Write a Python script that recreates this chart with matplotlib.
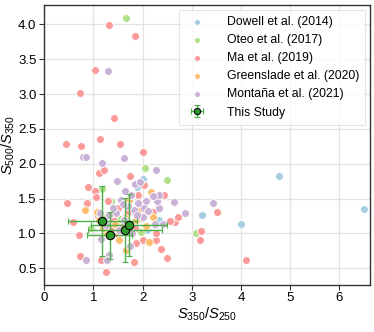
import matplotlib
matplotlib.use("Agg")
import matplotlib.pyplot as plt

# S350/S250 (x) and S500/S350 (y) colour ratios per survey
dowell_x = [6.51, 4.78, 4.01, 3.20, 2.00, 1.92, 1.89, 2.34, 1.60, 2.10, 1.95, 2.25, 1.75]
dowell_y = [1.35, 1.82, 1.13, 1.26, 1.78, 1.73, 1.66, 1.19, 1.16, 1.05, 1.20, 1.12, 1.30]

oteo_x = [1.67, 2.06, 2.50, 3.09, 3.54, 2.33, 1.97, 1.18, 1.36, 1.55, 0.95, 2.05, 1.45, 1.25, 1.80]
oteo_y = [4.10, 1.94, 1.76, 1.00, 1.30, 1.35, 1.02, 1.63, 1.47, 1.20, 1.07, 1.10, 1.05, 1.25, 1.15]

ma_x = [1.32, 1.85, 1.03, 0.72, 1.43, 0.45, 0.74, 1.54, 1.13, 2.00, 1.12, 1.22, 1.75, 2.03,
        0.89, 1.03, 0.46, 0.88, 1.05, 1.29, 1.30, 1.50, 2.43, 1.91, 0.59, 0.71, 0.73, 1.16,
        1.26, 1.83, 2.49, 2.38, 2.01, 2.28, 2.27, 1.86, 3.16, 3.19, 3.51, 4.11, 2.66, 2.73,
        2.55, 2.22, 1.40, 1.60, 1.70, 1.95, 1.35, 1.85, 1.10, 1.50]
ma_y = [3.99, 3.83, 3.35, 3.01, 2.66, 2.28, 2.26, 2.29, 2.35, 2.17, 1.87, 1.91, 1.83, 1.70,
        1.66, 1.61, 1.43, 1.43, 1.52, 1.48, 1.47, 1.36, 1.55, 1.55, 1.17, 0.98, 0.68, 0.62,
        0.44, 0.59, 0.64, 0.78, 0.90, 0.91, 1.01, 0.86, 0.90, 1.03, 1.31, 0.61, 1.16, 1.24,
        1.18, 1.31, 1.20, 1.10, 1.30, 1.22, 1.05, 1.08, 1.25, 0.98]

green_x = [0.84, 2.18, 2.13, 1.67, 1.58, 1.12, 1.07, 1.45, 1.87, 2.07, 1.53, 1.26, 2.21,
           1.73, 1.39, 1.20, 1.65, 1.95]
green_y = [1.33, 1.59, 0.87, 0.76, 1.46, 1.19, 1.31, 1.14, 1.19, 1.10, 0.91, 1.00, 1.24,
           1.48, 1.29, 1.08, 1.22, 1.35]

mont_x = [1.30, 0.80, 0.86, 1.18, 1.62, 1.49, 2.27, 1.85, 1.95, 1.65, 2.63, 3.44, 2.86,
          2.33, 2.29, 2.34, 2.21, 1.90, 2.07, 2.02, 1.83, 1.70, 1.46, 1.32, 1.13, 1.15,
          1.32, 1.28, 0.86, 1.75, 2.26, 2.41, 2.00, 1.63, 1.56, 1.77, 1.79, 1.53, 1.40,
          1.88, 2.12, 1.25, 1.60]
mont_y = [3.33, 2.09, 2.09, 2.01, 2.08, 1.75, 1.91, 1.71, 1.74, 1.61, 1.45, 1.43, 1.29,
          1.36, 1.46, 1.55, 1.54, 1.44, 1.46, 1.37, 1.33, 1.39, 1.29, 1.26, 1.29, 0.92,
          0.69, 0.61, 0.61, 0.82, 1.14, 1.14, 1.24, 1.19, 1.48, 1.55, 1.00, 1.05, 1.36,
          1.27, 1.32, 1.12, 1.42]

study_x = [1.18, 1.33, 1.65, 1.73]
study_y = [1.18, 0.97, 1.05, 1.12]
study_xerr = [0.70, 0.45, 0.75, 0.77]
study_yerr = [0.50, 0.34, 0.46, 0.44]

surveys = [
    ("Dowell et al. (2014)", dowell_x, dowell_y, "#a6cee3"),
    ("Oteo et al. (2017)", oteo_x, oteo_y, "#b2df8a"),
    ("Ma et al. (2019)", ma_x, ma_y, "#fb9a99"),
    ("Greenslade et al. (2020)", green_x, green_y, "#fdbf6f"),
    ("Montaña et al. (2021)", mont_x, mont_y, "#cab2d6"),
]

plt.rcParams["font.family"] = ["Liberation Sans", "DejaVu Sans"]
plt.rcParams["font.size"] = 9.5
plt.rcParams["mathtext.fontset"] = "custom"
plt.rcParams["mathtext.rm"] = "Liberation Sans"
plt.rcParams["mathtext.it"] = "Liberation Sans:italic"

fig = plt.figure(figsize=(3.74, 3.32), dpi=100)
ax = fig.add_axes([0.118, 0.142, 0.871, 0.843])

for label, xs, ys, color in surveys:
    ax.scatter(xs, ys, s=32, color=color, edgecolors="white", linewidths=0.6,
               label=label, zorder=2)

ax.errorbar(study_x, study_y, xerr=study_xerr, yerr=study_yerr, fmt="o",
            color="#4daf4a", ecolor="#4daf4a", elinewidth=1.0, capsize=2.5,
            markersize=6, markerfacecolor="#2e9a2a", markeredgecolor="black",
            markeredgewidth=0.8, label="This Study", zorder=3)

ax.set_xlim(0, 6.62)
ax.set_ylim(0.26, 4.28)
ax.set_xticks([0, 1, 2, 3, 4, 5, 6])
ax.set_yticks([0.5, 1.0, 1.5, 2.0, 2.5, 3.0, 3.5, 4.0])
ax.set_yticklabels(["0.5", "1.0", "1.5", "2.0", "2.5", "3.0", "3.5", "4.0"])
ax.grid(True, color="#e3e3e3", linewidth=0.9, zorder=0)
ax.set_axisbelow(True)
ax.tick_params(direction="out", length=3.5, width=0.8, color="#333333", pad=2)
for spine in ax.spines.values():
    spine.set_color("#333333")
    spine.set_linewidth(1.0)

ax.set_xlabel("$S_{350}/S_{250}$", fontsize=10.5, labelpad=1)
ax.set_ylabel("$S_{500}/S_{350}$", fontsize=10.5, labelpad=1)

leg = ax.legend(loc="upper right", fontsize=8.8, frameon=True, fancybox=False,
                borderaxespad=0.4, handletextpad=1.4, labelspacing=0.5,
                markerscale=0.75, borderpad=0.5)
leg.get_frame().set_edgecolor("#dddddd")
leg.get_frame().set_linewidth(0.8)

fig.savefig("out.png", dpi=100)
